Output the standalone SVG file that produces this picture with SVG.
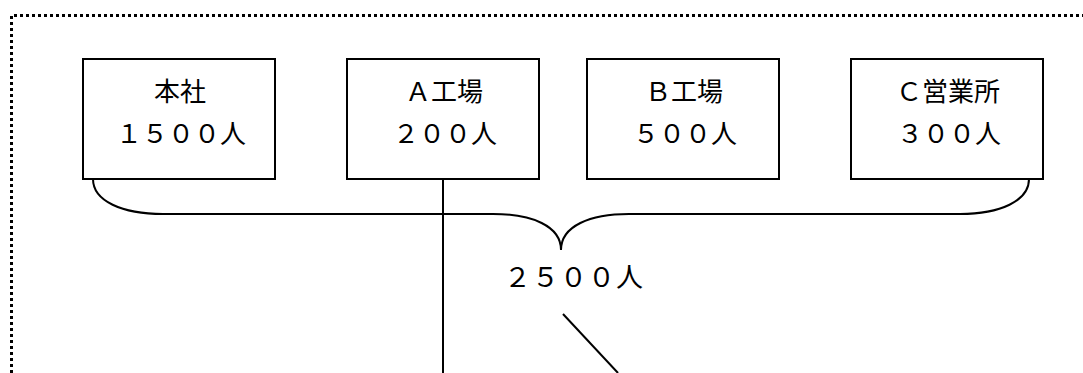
<svg xmlns="http://www.w3.org/2000/svg" width="1083" height="373" viewBox="0 0 1083 373">
<style>
.frame{fill:none;stroke:#000;stroke-width:3;stroke-dasharray:3 3}
.box{fill:#fff;stroke:#000;stroke-width:2}
.line{fill:none;stroke:#000;stroke-width:2}
.t{font-family:"Noto Sans CJK JP","Noto Sans CJK SC",sans-serif;font-size:26px;fill:#000;text-anchor:middle}
.sum{font-family:"Noto Sans CJK JP","Noto Sans CJK SC",sans-serif;font-size:27px;fill:#000;text-anchor:middle;letter-spacing:1px}
</style>
<rect width="1083" height="373" fill="#fff"/>
<path class="frame" d="M11.5,373 L11.5,15.5 L1083,15.5"/>
<g id="connectors">
<path class="line" d="M93,179 C93,201 122,214 163,214 L493,214 C532,214 561,226 561,250 C561,226 590,214 629,214 L960,214 C1000,214 1029,201 1029,179"/>
<line class="line" x1="443" y1="179" x2="443" y2="373"/>
<line class="line" x1="563" y1="314" x2="618" y2="373"/>
</g>
<g id="honsha">
<rect class="box" x="83" y="59" width="192" height="120"/>
<text class="t" x="180" y="101">本社</text>
<text class="t" x="181" y="143">１５００人</text>
</g>
<g id="a-kojo">
<rect class="box" x="347" y="59" width="192" height="120"/>
<text class="t" x="444" y="101">Ａ工場</text>
<text class="t" x="445" y="143">２００人</text>
</g>
<g id="b-kojo">
<rect class="box" x="587" y="59" width="192" height="120"/>
<text class="t" x="684" y="101">Ｂ工場</text>
<text class="t" x="685" y="143">５００人</text>
</g>
<g id="c-eigyosho">
<rect class="box" x="851" y="59" width="192" height="120"/>
<text class="t" x="948" y="101">Ｃ営業所</text>
<text class="t" x="949" y="143">３００人</text>
</g>
<g id="total">
<text class="sum" x="574" y="287">２５００人</text>
</g>
</svg>
